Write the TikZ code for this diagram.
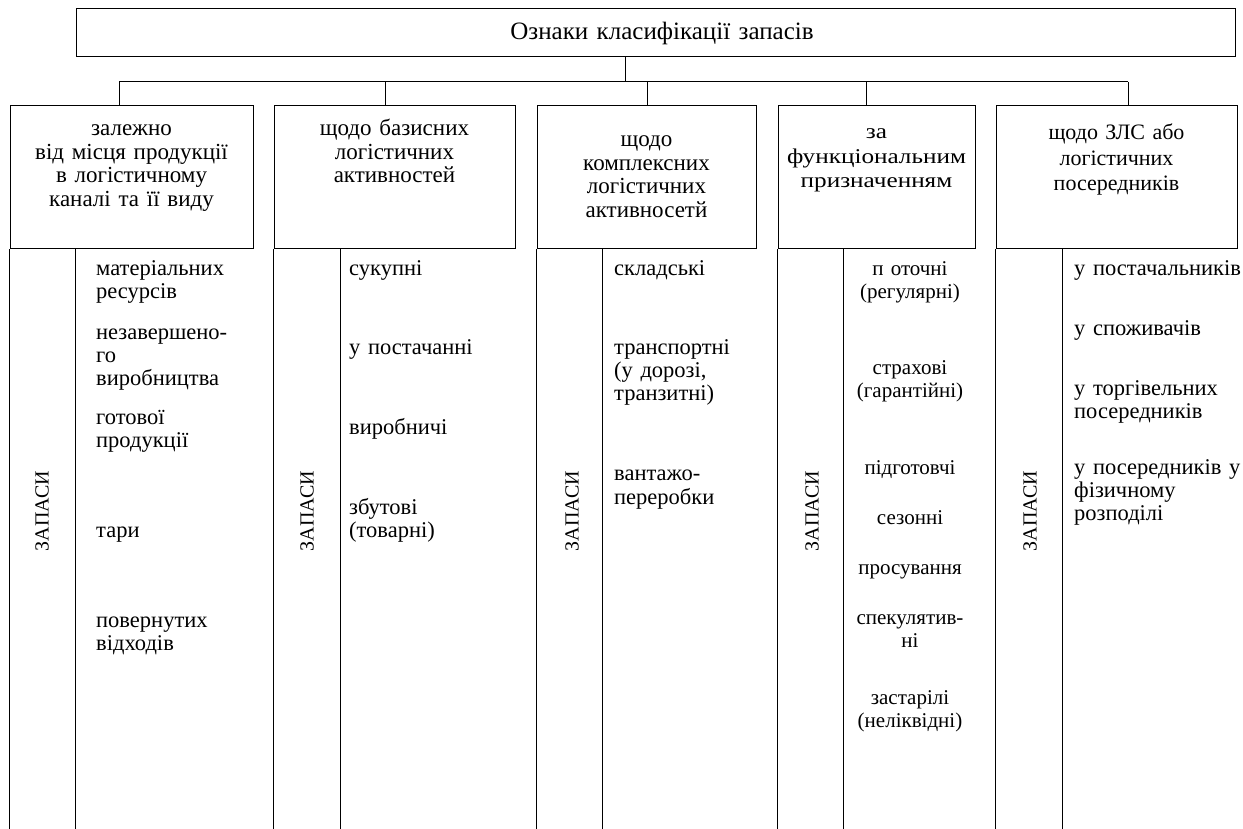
\documentclass[tikz,border=0pt]{standalone}
\usepackage{fontspec}
\setmainfont[WordSpace=1.35]{Liberation Serif}
\newfontfamily\wideserif[FakeStretch=1.2,WordSpace=1.35]{Liberation Serif}
\begin{document}
\begin{tikzpicture}[x=1pt,y=-1pt,
  box/.style={draw, line width=1pt, inner sep=0pt},
  ln/.style={line width=1pt},
  toptxt/.style={inner sep=0pt, font=\fontsize{25}{28}\selectfont},
  hdr/.style={anchor=north, align=center, inner sep=0pt, font=\fontsize{23}{23.7}\selectfont},
  hdrb/.style={anchor=north, align=center, inner sep=0pt, font=\fontsize{22}{25.5}\selectfont},
  hdrs/.style={anchor=north, align=center, inner sep=0pt, font=\wideserif\fontsize{21}{24.5}\selectfont},
  itm/.style={anchor=north west, align=left, inner sep=0pt, font=\fontsize{22.5}{23}\selectfont},
  itmc/.style={anchor=north, align=center, inner sep=0pt, font=\fontsize{21}{23}\selectfont},
  zap/.style={rotate=90, inner sep=0pt, font=\fontsize{20}{23}\selectfont}]
\useasboundingbox (0,0) rectangle (1243,829);
\coordinate (bot) at (0,829);
% top box
\node[box, minimum width=1159pt, minimum height=48pt] (top) at (655.5,33) {};
\node[toptxt] (toptext) at (662,33) {Ознаки класифікації запасів};
% header boxes
\node[box, minimum width=243pt, minimum height=143pt] (h1) at (131.5,177.5) {};
\node[box, minimum width=241pt, minimum height=143pt] (h2) at (394.5,177.5) {};
\node[box, minimum width=219pt, minimum height=143pt] (h3) at (646.5,177.5) {};
\node[box, minimum width=197pt, minimum height=143pt] (h4) at (876.5,177.5) {};
\node[box, minimum width=241pt, minimum height=143pt] (h5) at (1116.5,177.5) {};
% connectors
\coordinate (bus0) at (625,82);
\coordinate (b1) at (119,82);
\coordinate (b2) at (385,82);
\coordinate (b3) at (647,82);
\coordinate (b4) at (866,82);
\coordinate (b5) at (1128,82);
\draw[ln] (top.south -| bus0) -- (bus0);
\draw[ln] (b1) -- (b5);
\draw[ln] (b1) -- (b1 |- h1.north);
\draw[ln] (b2) -- (b2 |- h2.north);
\draw[ln] (b3) -- (b3 |- h3.north);
\draw[ln] (b4) -- (b4 |- h4.north);
\draw[ln] (b5) -- (b5 |- h5.north);
% header texts
\node[hdr] (t1) at (131.5,118.7) {\strut залежно\\від місця продукції\\в логістичному\\каналі та її виду};
\node[hdr] (t2) at (394.5,118.7) {\strut щодо базисних\\логістичних\\активностей};
\node[hdr] (t3) at (646.5,129.7) {\strut щодо\\комплексних\\логістичних\\активносетй};
\node[hdrs] (t4) at (876.5,121.6) {\strut за\\функціональним\\призначенням};
\node[hdrb] (t5) at (1116.5,121.5) {\strut щодо ЗЛС або\\логістичних\\посередників};
% strips
\coordinate (d1) at (75,249);
\coordinate (d2) at (340,249);
\coordinate (d3) at (602,249);
\coordinate (d4) at (843,249);
\coordinate (d5) at (1062,249);
\foreach \i in {1,...,5}{
  \draw[ln] (h\i.south west) -- (h\i.south west |- bot);
  \draw[ln] (d\i) -- (d\i |- bot);
}
\node[zap] (z1) at (42,511) {ЗАПАСИ};
\node[zap] (z2) at (307,511) {ЗАПАСИ};
\node[zap] (z3) at (572,511) {ЗАПАСИ};
\node[zap] (z4) at (812,511) {ЗАПАСИ};
\node[zap] (z5) at (1030,511) {ЗАПАСИ};
% column 1
\node[itm] (a1) at (96,259.5) {\strut матеріальних\\ресурсів};
\node[itm] (a2) at (96,323.5) {\strut незавершено-\\го\\виробництва};
\node[itm] (a3) at (96,408.5) {\strut готової\\продукції};
\node[itm] (a4) at (96,521.5) {\strut тари};
\node[itm] (a5) at (96,611.5) {\strut повернутих\\відходів};
% column 2
\node[itm] (c21) at (349,259.5) {\strut сукупні};
\node[itm] (c22) at (349,338.5) {\strut у постачанні};
\node[itm] (c23) at (349,418.5) {\strut виробничі};
\node[itm] (c24) at (349,498.5) {\strut збутові\\(товарні)};
% column 3
\node[itm] (c31) at (614,259.5) {\strut складські};
\node[itm] (c32) at (614,338.5) {\strut транспортні\\(у дорозі,\\транзитні)};
\node[itm] (c33) at (614,464.5) {\strut вантажо-\\переробки};
% column 4
\node[itmc] (c41) at (910,259.5) {\strut п оточні\\(регулярні)};
\node[itmc] (c42) at (910,358.5) {\strut страхові\\(гарантійні)};
\node[itmc] (c43) at (910,458.5) {\strut підготовчі};
\node[itmc] (c44) at (910,508.5) {\strut сезонні};
\node[itmc] (c45) at (910,558.5) {\strut просування};
\node[itmc] (c46) at (910,608.5) {\strut спекулятив-\\ні};
\node[itmc] (c47) at (910,688.5) {\strut застарілі\\(неліквідні)};
% column 5
\node[itm] (c51) at (1074,259.5) {\strut у постачальників};
\node[itm] (c52) at (1074,319.5) {\strut у споживачів};
\node[itm] (c53) at (1074,379.5) {\strut у торгівельних\\посередників};
\node[itm] (c54) at (1074,458.5) {\strut у посередників у\\фізичному\\розподілі};
\end{tikzpicture}
\end{document}
